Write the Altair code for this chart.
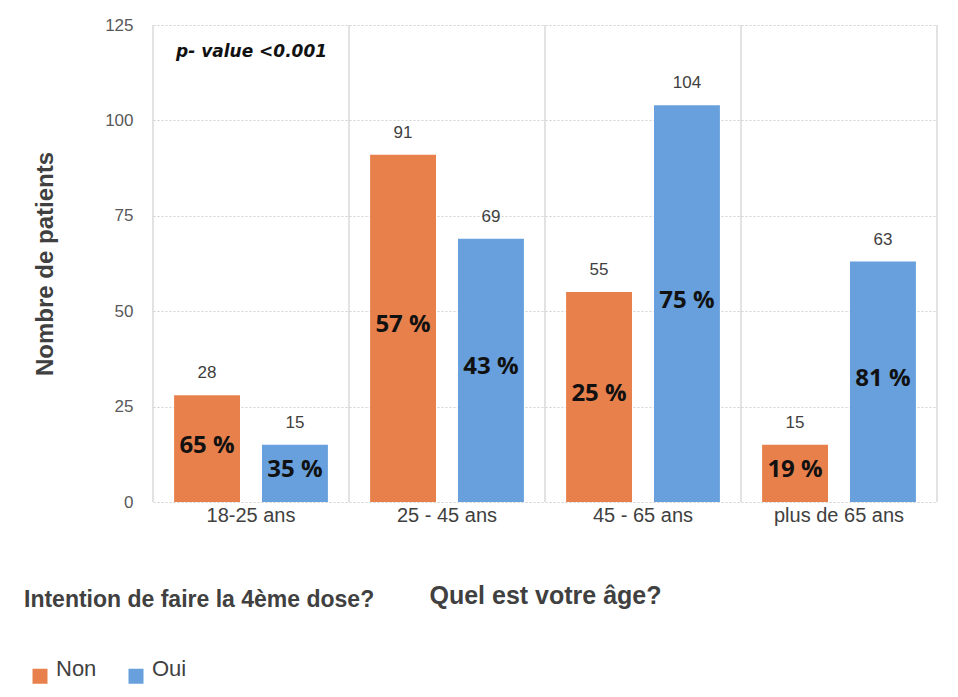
import altair as alt
import pandas as pd

# Survey answers by age group
ages = ["18-25 ans", "25 - 45 ans", "45 - 65 ans", "plus de 65 ans"]
answers = ["Non", "Oui"]
non_counts = [28, 91, 55, 15]
oui_counts = [15, 69, 104, 63]
non_pct = ["65 %", "57 %", "25 %", "19 %"]
oui_pct = ["35 %", "43 %", "75 %", "81 %"]
y_ticks = [0, 25, 50, 75, 100, 125]

colors = ["#E8804C", "#67A0DC"]
text_dark = "#404040"
font = "Liberation Sans"

rows = []
for i, age in enumerate(ages):
    rows.append({"age": age, "intention": "Non", "count": non_counts[i], "pct": non_pct[i]})
    rows.append({"age": age, "intention": "Oui", "count": oui_counts[i], "pct": oui_pct[i]})
df = pd.DataFrame(rows)

band_scale = alt.Scale(paddingInner=0, paddingOuter=0)

x_enc = alt.X(
    "age:N",
    sort=ages,
    scale=band_scale,
    axis=alt.Axis(
        title="Quel est votre âge?",
        labelAngle=0,
        labelFontSize=20,
        labelFont=font,
        labelColor=text_dark,
        labelPadding=3,
        domain=False,
        ticks=False,
        grid=False,
        titleFontSize=25,
        titleFont=font,
        titleFontWeight="bold",
        titleColor=text_dark,
        titlePadding=58,
    ),
)
xoff_enc = alt.XOffset(
    "intention:N",
    sort=answers,
    scale=alt.Scale(paddingInner=0.25, paddingOuter=0.24),
)
y_scale = alt.Scale(domain=[0, 125], nice=False)

base = alt.Chart(df)

bars = base.mark_bar().encode(
    x=x_enc,
    xOffset=xoff_enc,
    y=alt.Y(
        "count:Q",
        scale=y_scale,
        axis=alt.Axis(
            title="Nombre de patients",
            values=y_ticks,
            domain=False,
            ticks=False,
            labelPadding=20,
            labelFontSize=17,
            labelFont=font,
            labelColor="#595959",
            grid=True,
            gridColor="#D0D0D0",
            gridDash=[2, 2],
            gridWidth=1,
            titleFontSize=24,
            titleFont=font,
            titleFontWeight="bold",
            titleColor=text_dark,
            titlePadding=47,
        ),
    ),
    color=alt.Color(
        "intention:N",
        sort=answers,
        scale=alt.Scale(domain=answers, range=colors),
        legend=alt.Legend(
            title="Intention de faire la 4ème dose?",
            orient="none",
            legendX=-129,
            legendY=564,
            direction="horizontal",
            titleFontSize=23,
            titleFont=font,
            titleFontWeight="bold",
            titleColor=text_dark,
            titlePadding=53,
            titleLimit=0,
            symbolType="square",
            symbolSize=225,
            symbolStrokeWidth=0,
            symbolOffset=5,
            labelFontSize=22,
            labelFont=font,
            labelColor=text_dark,
            labelBaseline="alphabetic",
            labelOffset=5,
            columnPadding=23,
        ),
    ),
)

# Group separators: left edge of every group plus the right edge of the last one
separators = base.mark_rule(color="#D9D9D9", strokeWidth=1).encode(
    x=alt.X("age:N", sort=ages, scale=band_scale, bandPosition=0, axis=None),
    y=alt.datum(0),
    y2=alt.datum(125),
)
right_edge = (
    base.transform_filter(alt.datum.age == ages[-1])
    .mark_rule(color="#D9D9D9", strokeWidth=1)
    .encode(
        x=alt.X("age:N", sort=ages, scale=band_scale, bandPosition=1, axis=None),
        y=alt.datum(0),
        y2=alt.datum(125),
    )
)

count_labels = base.mark_text(
    baseline="middle", dy=-22, fontSize=17, font=font, color=text_dark
).encode(
    x=alt.X("age:N", sort=ages, scale=band_scale),
    xOffset=xoff_enc,
    y=alt.Y("count:Q", scale=y_scale),
    text="count:Q",
)

pct_labels = base.transform_calculate(mid="datum.count / 2").mark_text(
    baseline="middle", dy=-3, fontSize=24, font="Open Sans", fontWeight="bold", color="#111111"
).encode(
    x=alt.X("age:N", sort=ages, scale=band_scale),
    xOffset=xoff_enc,
    y=alt.Y("mid:Q", scale=y_scale),
    text="pct:N",
)

pvalue = alt.Chart(pd.DataFrame({"t": ["p- value <0.001"]})).mark_text(
    align="left",
    baseline="middle",
    fontSize=17,
    font="DejaVu Sans",
    fontWeight="bold",
    fontStyle="italic",
    color="#111111",
).encode(x=alt.value(23), y=alt.value(27), text="t:N")

frame = alt.layer(separators, right_edge)
content = alt.layer(bars, count_labels, pct_labels, pvalue)

chart = (
    alt.layer(frame, content)
    .resolve_scale(x="independent")
    .properties(
        width=784,
        height=477,
        padding={"left": 24, "top": 16, "right": 10, "bottom": 10},
        background="white",
    )
    .configure_view(stroke=None)
)

chart.save("out.html", embed_options={"renderer": "svg", "actions": False})
